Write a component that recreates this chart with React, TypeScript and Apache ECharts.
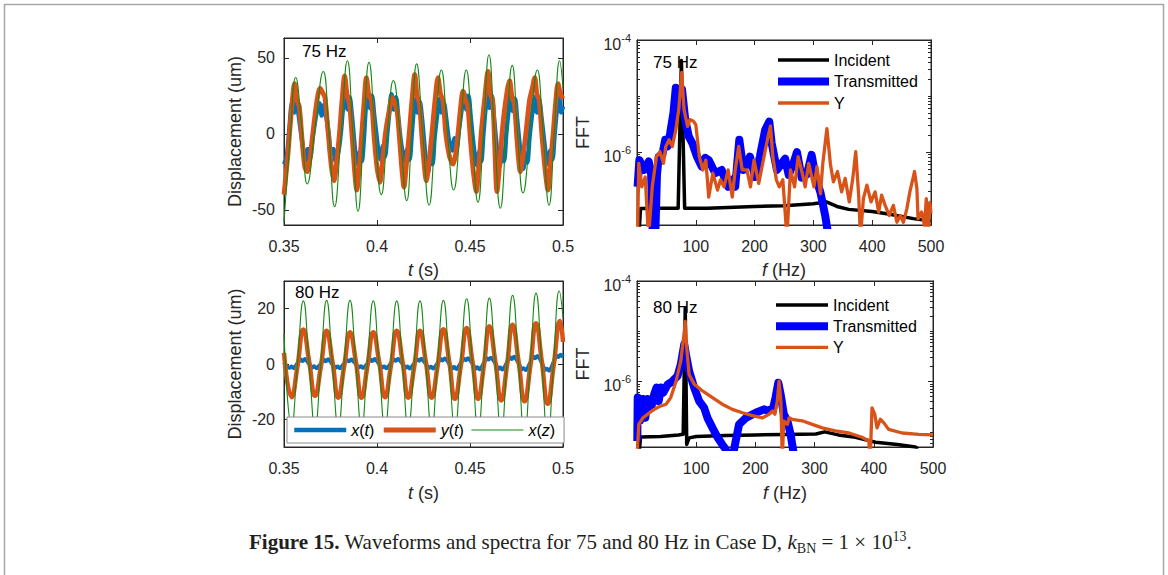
import React, { useEffect, useRef } from "react";
import * as echarts from "echarts";

// ---------- tick labels / categories ----------
const tickTime = [0.35, 0.4, 0.45, 0.5];
const tickFreq = [100, 200, 300, 400, 500];
const tickDisp75 = [-50, 0, 50];
const tickDisp80 = [-20, 0, 20];
const tickFFT = [1e-6, 1e-4];
const tickFFTExp = ["-6", "-4"];
const minorFFT = [6e-8, 7e-8, 8e-8, 9e-8, 1e-7, 2e-7, 3e-7, 4e-7, 5e-7, 6e-7, 7e-7, 8e-7, 9e-7,
  2e-6, 3e-6, 4e-6, 5e-6, 6e-6, 7e-6, 8e-6, 9e-6, 1e-5, 2e-5, 3e-5, 4e-5, 5e-5, 6e-5, 7e-5, 8e-5, 9e-5];
const panelLabels = ["75 Hz", "80 Hz"];
const waveNames = ["x(t)", "y(t)", "x(z)"];
const fftNames = ["Incident", "Transmitted", "Y"];

// ---------- 75 Hz waveforms [t (s), displacement (um)] ----------
const wave75X = [
  [0.35, -20], [0.3515, -15], [0.353, 5], [0.3543, 20], [0.3555, 14], [0.3565, 21], [0.3578, 13], [0.3592, 0],
  [0.3605, -12], [0.3615, -18], [0.3628, -10], [0.364, -16], [0.3655, -2],
  [0.3675, 14], [0.369, 20], [0.3703, 12], [0.3715, 19], [0.3728, 11], [0.3742, -2],
  [0.3752, -14], [0.3765, -10], [0.3778, -18], [0.3792, -12], [0.3805, 0],
  [0.3818, 18], [0.383, 27], [0.3842, 16], [0.3853, 24], [0.3865, 12], [0.3876, -3],
  [0.3885, -14], [0.3896, -20], [0.3908, -12], [0.3918, -18], [0.393, -2],
  [0.394, 18], [0.395, 28], [0.3962, 17], [0.3973, 25], [0.3985, 12], [0.3998, -2],
  [0.4008, -12], [0.402, -17], [0.4032, -8], [0.4043, -15], [0.4055, 0],
  [0.4067, 15], [0.4078, 26], [0.409, 16], [0.4102, 24], [0.4115, 10], [0.4127, -4],
  [0.414, -14], [0.4152, -19], [0.4163, -10], [0.4175, -17], [0.4187, 0],
  [0.4197, 15], [0.4207, 23], [0.4218, 14], [0.423, 21], [0.4242, 10], [0.4253, -5],
  [0.4263, -18], [0.4275, -25], [0.4287, -14], [0.4298, -20], [0.431, -2],
  [0.4325, 14], [0.4337, 23], [0.4348, 14], [0.436, 20], [0.4372, 10], [0.4385, -3],
  [0.4395, -8], [0.4405, -11], [0.4417, -3], [0.4428, -10], [0.444, 2],
  [0.4455, 16], [0.4468, 27], [0.448, 16], [0.4492, 25], [0.4503, 12], [0.4515, -3],
  [0.4527, -15], [0.4538, -21], [0.455, -12], [0.456, -18], [0.4572, 0],
  [0.4583, 16], [0.4594, 28], [0.4605, 17], [0.4617, 25], [0.4628, 12], [0.464, -4],
  [0.465, -15], [0.466, -21], [0.4672, -12], [0.4683, -18], [0.4695, 0],
  [0.4707, 15], [0.4718, 25], [0.473, 15], [0.4742, 23], [0.4753, 10], [0.4765, -5],
  [0.4775, -17], [0.4786, -23], [0.4797, -13], [0.4808, -19], [0.482, -2],
  [0.4835, 14], [0.4847, 24], [0.486, 14], [0.4872, 22], [0.4885, 10], [0.4897, -3],
  [0.4908, -14], [0.492, -20], [0.4932, -11], [0.4943, -17], [0.4955, 0],
  [0.4967, 16], [0.4978, 26], [0.499, 14], [0.5, 18],
];
const wave75Y = [
  [0.35, -40], [0.352, -15], [0.354, 15], [0.3557, 33], [0.357, 22], [0.3582, 18], [0.3598, -5], [0.3612, -22],
  [0.3625, -25], [0.3638, -18], [0.3655, 0], [0.3675, 20], [0.3694, 30], [0.3708, 27], [0.372, 24], [0.3738, 0],
  [0.3755, -22], [0.3769, -31], [0.3782, -20], [0.3798, 0], [0.3812, 22], [0.3826, 38], [0.384, 25], [0.3852, 20],
  [0.3868, -5], [0.388, -25], [0.3891, -37], [0.3905, -22], [0.3918, 0], [0.393, 20], [0.3943, 37], [0.3957, 25],
  [0.397, 22], [0.3985, -3], [0.4, -22], [0.4016, -32], [0.403, -18], [0.4045, 0], [0.4065, 15], [0.4082, 24],
  [0.4095, 20], [0.4108, 15], [0.4122, -5], [0.4135, -25], [0.4145, -35], [0.4158, -20], [0.4173, 0], [0.4188, 22],
  [0.4203, 39], [0.4216, 25], [0.4228, 20], [0.4242, -3], [0.4255, -22], [0.4265, -31], [0.428, -18], [0.4295, 0],
  [0.4312, 22], [0.4328, 37], [0.4342, 26], [0.4355, 22], [0.437, 0], [0.439, -15], [0.4409, -20], [0.4422, -14],
  [0.4437, 2], [0.445, 18], [0.4462, 28], [0.4475, 22], [0.4488, 18], [0.4503, -5], [0.4518, -25], [0.4534, -38],
  [0.4547, -22], [0.456, 0], [0.4578, 22], [0.4597, 41], [0.461, 26], [0.4622, 22], [0.4632, -5], [0.4645, -38],
  [0.4658, -22], [0.4672, 0], [0.469, 20], [0.4713, 35], [0.4726, 24], [0.4738, 20], [0.4752, -3], [0.4762, -18],
  [0.477, -25], [0.4785, -15], [0.48, 0], [0.482, 22], [0.4835, 30], [0.4848, 37], [0.486, 26], [0.4872, 22],
  [0.4888, -3], [0.4905, -25], [0.4919, -37], [0.4932, -20], [0.4947, 0], [0.496, 20], [0.4973, 33], [0.4987, 26],
  [0.5, 23],
];
const wave75Z = [
  [0.35, -58], [0.3532, -5], [0.3563, 37], [0.3595, 5], [0.3625, -33], [0.3668, 5], [0.3711, 41], [0.3742, 0],
  [0.3772, -48], [0.3807, 0], [0.3841, 48], [0.387, 0], [0.3898, -51], [0.3928, 0], [0.3957, 47], [0.399, 0],
  [0.4023, -40], [0.4055, 0], [0.4088, 35], [0.4124, 0], [0.416, -44], [0.4186, 0], [0.4213, 46], [0.4246, 0],
  [0.428, -47], [0.4313, 0], [0.4346, 42], [0.4379, 0], [0.4412, -37], [0.4446, 0], [0.448, 42], [0.4511, 0],
  [0.4543, -45], [0.4572, 0], [0.4602, 52], [0.4632, 0], [0.4663, -49], [0.4695, 0], [0.4727, 45], [0.4756, 0],
  [0.4785, -39], [0.4823, 0], [0.4862, 42], [0.4893, 0], [0.4925, -47], [0.4953, 0], [0.4982, 48], [0.5, 30],
];

// ---------- 80 Hz waveforms ----------
const wave80X = [
  [0.35, 0.6], [0.3515, -0.8], [0.353, -1.4], [0.3541, -0.9], [0.3553, -1.5], [0.3572, 0.2],
  [0.359, 1.6], [0.36, 1.1], [0.3612, 1.8], [0.3635, 0.0], [0.3652, -1.3], [0.3662, -0.8], [0.3675, -1.5], [0.3698, 0.1],
  [0.3715, 1.5], [0.3725, 1.0], [0.3737, 1.7], [0.376, 0.0], [0.3777, -1.3], [0.3788, -0.9], [0.38, -1.5], [0.3823, 0.1],
  [0.384, 1.4], [0.385, 1.0], [0.3862, 1.6], [0.3886, 0.0], [0.3903, -1.2], [0.3913, -0.8], [0.3925, -1.4], [0.3948, 0.1],
  [0.3965, 1.6], [0.3975, 1.1], [0.3987, 1.8], [0.4011, 0.0], [0.4028, -1.3], [0.4038, -0.9], [0.405, -1.5], [0.4074, 0.2],
  [0.4091, 1.6], [0.4101, 1.2], [0.4113, 1.8], [0.4137, 0.1], [0.4154, -1.4], [0.4164, -0.9], [0.4176, -1.6], [0.42, 0.2],
  [0.4216, 1.7], [0.4226, 1.2], [0.4238, 1.9], [0.4262, 0.1], [0.4279, -1.4], [0.4289, -1.0], [0.4301, -1.6], [0.4325, 0.2],
  [0.4342, 1.8], [0.4352, 1.3], [0.4364, 2.0], [0.4388, 0.2], [0.4405, -1.6], [0.4415, -1.1], [0.4427, -1.8], [0.445, 0.3],
  [0.4467, 1.9], [0.4477, 1.4], [0.4489, 2.1], [0.4513, 0.2], [0.453, -1.7], [0.454, -1.2], [0.4552, -1.9], [0.4574, 0.3],
  [0.459, 2.1], [0.46, 1.6], [0.4612, 2.3], [0.4636, 0.3], [0.4653, -1.8], [0.4663, -1.3], [0.4675, -2.0], [0.4698, 0.4],
  [0.4715, 2.4], [0.4725, 1.8], [0.4737, 2.6], [0.4761, 0.4], [0.4778, -2.0], [0.4788, -1.5], [0.48, -2.2], [0.4824, 0.5],
  [0.484, 2.7], [0.485, 2.1], [0.4862, 2.9], [0.4886, 0.5], [0.4903, -2.2], [0.4913, -1.7], [0.4925, -2.4], [0.4949, 0.6],
  [0.4965, 3.0], [0.4975, 2.5], [0.4987, 3.3], [0.5, 2.5],
];
const wave80Y = [
  [0.35, 4], [0.3541, -12], [0.3572, -1], [0.3604, 12.5], [0.3635, 1], [0.3667, -11.5], [0.3698, -1], [0.3729, 12],
  [0.376, 1], [0.3792, -12.2], [0.3823, -1], [0.3855, 11.5], [0.3886, 1], [0.3917, -12.2], [0.3948, -1], [0.398, 11.5],
  [0.4011, 1], [0.4043, -12], [0.4074, -1], [0.4106, 12], [0.4137, 1], [0.4168, -12.2], [0.42, -1], [0.4231, 12],
  [0.4262, 1], [0.4294, -12.2], [0.4325, -1], [0.4357, 12.6], [0.4388, 1], [0.4419, -12.6], [0.445, -1], [0.4482, 13],
  [0.4513, 1], [0.4544, -12.6], [0.4574, -1], [0.4604, 13.6], [0.4636, 1], [0.4668, -13.2], [0.4698, -1], [0.4729, 14.2],
  [0.4761, 1], [0.4793, -13.5], [0.4824, -1], [0.4855, 14.7], [0.4886, 1], [0.4918, -14.4], [0.4949, -1], [0.4984, 15.5],
  [0.5, 8],
];
const wave80Z = [
  [0.35, 11], [0.3541, -22.5], [0.3572, 0], [0.3604, 22.8], [0.3635, 0], [0.3667, -23], [0.3698, 0], [0.3729, 23],
  [0.376, 0], [0.3792, -23], [0.3823, 0], [0.3855, 23], [0.3886, 0], [0.3917, -23], [0.3948, 0], [0.398, 22.8],
  [0.4011, 0], [0.4043, -23], [0.4074, 0], [0.4106, 22.8], [0.4137, 0], [0.4168, -23], [0.42, 0], [0.4231, 22.8],
  [0.4262, 0], [0.4294, -23.5], [0.4325, 0], [0.4357, 23], [0.4388, 0], [0.4419, -24], [0.445, 0], [0.4482, 23.6],
  [0.4513, 0], [0.4544, -24.5], [0.4574, 0], [0.4604, 23.8], [0.4636, 0], [0.4668, -25], [0.4698, 0], [0.4729, 24.8],
  [0.4761, 0], [0.4793, -26], [0.4824, 0], [0.4855, 25.6], [0.4886, 0], [0.4918, -27], [0.4949, 0], [0.498, 26.4],
  [0.5, 17],
];

// ---------- 75 Hz spectra [f (Hz), FFT] ----------
const fft75Incident = [
  [3, 3e-8], [6, 9.8e-8], [40, 1.0e-7], [70, 1.0e-7], [75.5, 4.3e-5], [81, 1.0e-7], [120, 1.0e-7], [200, 1.07e-7],
  [250, 1.1e-7], [300, 1.2e-7], [322, 1.29e-7], [340, 1.07e-7], [360, 9.5e-8], [400, 8.7e-8], [430, 7.8e-8],
  [470, 6.5e-8], [500, 5.9e-8],
];
const fft75Transmitted = [
  [1, 2.4e-7], [4, 7.2e-7], [12, 4.8e-7], [20, 6.8e-7], [24, 4.0e-7], [27, 3e-8], [31, 3e-8], [34, 4e-7], [37, 8.3e-7],
  [43, 8.9e-7], [48, 1.66e-6], [52, 1.26e-6], [56.5, 2.19e-6], [62, 5.0e-6], [66, 1.41e-5], [71, 6.6e-6], [76.5, 1.32e-5],
  [82, 3.8e-6], [88, 1.91e-6], [94, 1.45e-6], [102, 8.3e-7], [110, 5.5e-7], [116, 7.9e-7], [122, 7.2e-7], [133, 4.2e-7],
  [144, 4.8e-7], [150, 3.2e-7], [155, 2.4e-7], [162, 3.2e-7], [167, 2.4e-7], [174, 1.66e-6], [181, 4.8e-7], [192, 8.3e-7],
  [201, 3.6e-7], [209, 8.3e-7], [218, 2.5e-6], [225, 3.5e-6], [229, 1.45e-6], [238, 4.8e-7], [246, 6.3e-7], [252, 7.6e-7],
  [258, 3.9e-7], [266, 6.3e-7], [272, 1.0e-6], [280, 3.5e-7], [289, 4.0e-7], [297, 8.9e-7], [304, 3.5e-7], [312, 1.9e-7],
  [320, 7.4e-8], [326, 3e-8],
];
const fft75Y = [
  [1, 3e-8], [3, 6.3e-7], [8, 2.4e-7], [14, 3.6e-7], [19.6, 3e-8], [26, 2.4e-7], [33, 8.3e-7], [39, 1.02e-6], [45, 6.3e-7],
  [49, 1.26e-6], [54.6, 1.66e-6], [60, 1.26e-6], [66, 2.5e-6], [71, 5.75e-6], [76, 2.63e-5], [80, 5.75e-6], [86, 2.88e-6],
  [90, 3.8e-6], [96, 3.55e-6], [100, 3.09e-6], [106, 8.3e-7], [112, 4.8e-7], [117, 7.2e-7], [122, 1.58e-7], [129, 4.2e-7],
  [137, 2.1e-7], [142, 3.2e-7], [148, 2.4e-7], [155, 4.8e-7], [162, 1.58e-7], [167, 4.8e-7], [173, 1.26e-6], [179, 4.8e-7],
  [187, 4.8e-7], [193, 2.4e-7], [199, 7.2e-7], [207, 2.75e-7], [216, 8.3e-7], [223, 1.9e-6], [227, 2.9e-6], [231, 8.3e-7],
  [237, 3.2e-7], [242, 2.4e-7], [248, 3.2e-7], [255, 3e-8], [261, 4.8e-7], [268, 2.4e-7], [274, 8.3e-7], [281, 4.2e-7],
  [286, 2.4e-7], [292, 6.3e-7], [301, 2.4e-7], [306, 5.5e-7], [312, 1.8e-7], [316, 6.3e-7], [323, 2.63e-6], [329, 6.0e-7],
  [334, 2.95e-7], [341, 4.5e-7], [348, 1.95e-7], [354, 3.4e-7], [361, 1.29e-7], [367, 3.4e-7], [372, 1.02e-6], [377, 1.7e-7],
  [380, 3e-8], [385, 1.48e-7], [391, 2.57e-7], [398, 1.29e-7], [405, 1.95e-7], [411, 8.5e-8], [416, 1.7e-7], [422, 1.12e-7],
  [429, 7.4e-8], [436, 1.12e-7], [442, 5.6e-8], [448, 7.4e-8], [453, 5.6e-8], [459, 9.8e-8], [464, 1.95e-7], [472, 4.5e-7],
  [476, 2.24e-7], [478, 6.5e-8], [484, 8.5e-8], [489, 4.9e-8], [492, 1.48e-7], [495, 3e-8], [498, 1.26e-7], [500, 8e-8],
];

// ---------- 80 Hz spectra ----------
const fft80Incident = [
  [3, 3e-8], [6, 7.9e-8], [40, 8.1e-8], [70, 8.7e-8], [78, 9e-8], [81.5, 2.95e-5], [84, 5.6e-8], [88, 7.6e-8],
  [100, 8.1e-8], [150, 8.5e-8], [200, 8.7e-8], [250, 8.9e-8], [302, 9.1e-8], [317, 1.0e-7], [340, 8.7e-8],
  [369, 7.8e-8], [403, 6.2e-8], [440, 5.6e-8], [470, 5.0e-8], [475, 4.6e-8],
];
const fft80Transmitted = [
  [0.5, 6.6e-8], [1.2, 4.8e-7], [5, 1.66e-7], [10, 4.5e-7], [14, 1.9e-7], [18, 4.5e-7], [24, 3.0e-7], [29, 5.6e-7],
  [33, 7.6e-7], [36.6, 4.1e-7], [40.4, 7.6e-7], [44.4, 6.0e-7], [51.7, 8.7e-7], [60, 1.02e-6], [68.5, 1.29e-6],
  [74, 2.19e-6], [79.8, 5.5e-6], [82.6, 3.5e-6], [88, 1.62e-6], [96.6, 7.6e-7], [105, 4.1e-7], [113.5, 3.0e-7],
  [119, 1.9e-7], [127.5, 1.2e-7], [136, 7.8e-8], [144, 5.6e-8], [150, 4.5e-8], [157, 2e-8], [164, 4.5e-8],
  [172.4, 1.41e-7], [184, 1.9e-7], [200.5, 2.4e-7], [214.5, 2.8e-7], [223, 2.6e-7], [230, 3.0e-7], [234, 4.8e-7],
  [238.7, 9.5e-7], [242.6, 5.6e-7], [248, 2.24e-7], [254, 1.66e-7], [259.5, 8.9e-8], [263.5, 4.5e-8], [268, 2e-8],
];
const fft80Y = [
  [0.5, 4e-8], [3, 1.41e-7], [10, 1.9e-7], [21, 2.4e-7], [29, 2.8e-7], [38, 3.2e-7], [49, 3.55e-7], [57, 4.8e-7],
  [66, 1.02e-6], [74, 2.57e-6], [80, 1.02e-5], [81.4, 1.58e-5], [84, 4.7e-6], [88, 1.38e-6], [96.6, 8.9e-7],
  [110.6, 6.5e-7], [127.5, 4.8e-7], [144, 3.55e-7], [161, 2.8e-7], [178, 2.4e-7], [195, 2.1e-7], [212, 1.9e-7],
  [223, 2.24e-7], [229, 2.6e-7], [233, 2.24e-7], [237, 4.1e-7], [240, 1.02e-6], [243, 4.1e-7], [245.4, 3e-8],
  [248, 1.66e-7], [254, 1.41e-7], [257, 1.9e-7], [262.3, 1.78e-7], [279, 1.66e-7], [296, 1.41e-7], [313, 1.2e-7],
  [335, 1.05e-7], [358, 9.5e-8], [380, 7.8e-8], [391.5, 6.6e-8], [394, 3e-8], [397, 3.0e-7], [401.6, 2.24e-7],
  [405.5, 1.2e-7], [411, 1.78e-7], [417, 1.51e-7], [425, 1.12e-7], [448, 9.5e-8], [476, 8.9e-8], [500, 8.7e-8],
];

// ---------- styling ----------
const FONT = "'Liberation Sans', Arial, Helvetica, sans-serif";
const SERIF = "'Liberation Serif', 'Times New Roman', serif";
const AX = "#262626";
const C_BLUE = "#0072BD";
const C_ORANGE = "#D95319";
const C_GREEN = "#138a13";
const NAME_SIZE = 18;

const italicRich = (size: number) => ({
  i: { fontStyle: "italic", fontSize: size, fontFamily: FONT, color: AX },
});
const italicize = (s: string) => s.replace(/([a-z])/g, "{i|$1}");

function xPair(grid: number, min: number, max: number, ticks: number[], name: string, gap: number) {
  const base = {
    type: "value", gridIndex: grid, min, max,
    splitLine: { show: false },
    axisLine: { show: true, onZero: false, lineStyle: { color: AX, width: 1 } },
    axisTick: { show: true, inside: true, length: 5, customValues: ticks, lineStyle: { color: AX } },
  };
  return [
    {
      ...base, position: "bottom",
      axisLabel: { show: true, customValues: ticks, margin: 13, fontSize: 16, fontFamily: FONT, color: AX,
        formatter: (v: number) => String(+v.toFixed(4)) },
      name, nameLocation: "middle", nameGap: gap,
      nameTextStyle: { fontSize: NAME_SIZE, fontFamily: FONT, color: AX, rich: italicRich(NAME_SIZE) },
    },
    { ...base, position: "top", axisLabel: { show: false } },
  ];
}

function yLinear(grid: number, min: number, max: number, ticks: number[]) {
  const base = {
    type: "value", gridIndex: grid, min, max,
    splitLine: { show: false },
    axisLine: { show: true, onZero: false, lineStyle: { color: AX, width: 1 } },
    axisTick: { show: true, inside: true, length: 5, customValues: ticks, lineStyle: { color: AX } },
  };
  return [
    {
      ...base, position: "left",
      axisLabel: { show: true, customValues: ticks, margin: 9, fontSize: 16, fontFamily: FONT, color: AX },
      name: "Displacement (um)", nameLocation: "middle", nameGap: 40, nameRotate: 90,
      nameTextStyle: { fontSize: NAME_SIZE, fontFamily: FONT, color: AX },
    },
    { ...base, position: "right", axisLabel: { show: false } },
  ];
}

function yLog(grid: number) {
  const base = {
    type: "log", gridIndex: grid, min: 5e-8, max: 1e-4, logBase: 10,
    splitLine: { show: false },
    axisLine: { show: true, onZero: false, lineStyle: { color: AX, width: 1 } },
  };
  const major = { show: true, inside: true, length: 5, customValues: tickFFT, lineStyle: { color: AX } };
  const minor = { show: true, inside: true, length: 3, customValues: minorFFT, lineStyle: { color: AX } };
  return [
    {
      ...base, position: "left", axisTick: major,
      axisLabel: {
        show: true, customValues: tickFFT, margin: 6, color: AX,
        formatter: (v: number) => "{b|10}{s|" + tickFFTExp[v > 1e-5 ? 1 : 0] + "}",
        rich: {
          b: { fontSize: 16, fontFamily: FONT, color: AX, lineHeight: 16, padding: [8, 0, 0, 0] },
          s: { fontSize: 11, fontFamily: FONT, color: AX, lineHeight: 14, verticalAlign: "top" },
        },
      },
      name: "FFT", nameLocation: "middle", nameGap: 45, nameRotate: 90,
      nameTextStyle: { fontSize: NAME_SIZE, fontFamily: FONT, color: AX },
    },
    { ...base, position: "left", axisTick: minor, axisLabel: { show: false } },
    { ...base, position: "right", axisTick: major, axisLabel: { show: false } },
    { ...base, position: "right", axisTick: minor, axisLabel: { show: false } },
  ];
}

function line(name: string, data: number[][], xi: number, yi: number, color: string, width: number, smooth: number | boolean = false) {
  return {
    type: "line", name, data, xAxisIndex: xi, yAxisIndex: yi,
    symbol: "none", smooth, clip: true, silent: true,
    lineStyle: { color, width, join: "round" },
    itemStyle: { color },
    emphasis: { disabled: true },
  };
}

const legendBase = {
  selectedMode: false,
  itemStyle: { opacity: 0 },
  lineStyle: { width: "inherit" },
  textStyle: { fontSize: 16, fontFamily: FONT, color: "#000" },
};

export default function App() {
  const ref = useRef<HTMLDivElement>(null);
  useEffect(() => {
    if (!ref.current) return;
    const chart = echarts.init(ref.current, null, { renderer: "svg" });
    const grids = [
      { left: 284, top: 38, width: 279, height: 187 },
      { left: 637, top: 40, width: 294, height: 185 },
      { left: 284, top: 281, width: 279, height: 166 },
      { left: 637, top: 281, width: 296, height: 166 },
    ].map((g) => ({ ...g, show: true, borderColor: AX, borderWidth: 1, backgroundColor: "transparent" }));

    const xAxis = [
      ...xPair(0, 0.35, 0.5, tickTime, "{i|t} (s)", 36),
      ...xPair(1, 0, 500, tickFreq, "{i|f} (Hz)", 36),
      ...xPair(2, 0.35, 0.5, tickTime, "{i|t} (s)", 37),
      ...xPair(3, 0, 500, tickFreq, "{i|f} (Hz)", 37),
    ];
    const yAxis = [
      ...yLinear(0, -60, 63, tickDisp75),
      ...yLog(1),
      ...yLinear(2, -30, 30, tickDisp80),
      ...yLog(3),
    ];

    const series = [
      line(waveNames[0], wave75X, 0, 0, C_BLUE, 4.5, 0.3),
      line(waveNames[1], wave75Y, 0, 0, C_ORANGE, 4.8, 0.3),
      line(waveNames[2], wave75Z, 0, 0, C_GREEN, 1.1, 0.5),
      line(fftNames[0], fft75Incident, 2, 2, "#000000", 3.5),
      line(fftNames[1], fft75Transmitted, 2, 2, "#0000FF", 8),
      line(fftNames[2], fft75Y, 2, 2, C_ORANGE, 3.3),
      line(waveNames[0], wave80X, 4, 6, C_BLUE, 4, 0.3),
      line(waveNames[1], wave80Y, 4, 6, C_ORANGE, 4.5, 0.5),
      line(waveNames[2], wave80Z, 4, 6, C_GREEN, 1.1, 0.5),
      line(fftNames[0], fft80Incident, 6, 8, "#000000", 3.5),
      line(fftNames[1], fft80Transmitted, 6, 8, "#0000FF", 8),
      line(fftNames[2], fft80Y, 6, 8, C_ORANGE, 3.3),
    ];

    const legend = [
      { ...legendBase, orient: "vertical", left: 774, top: 52, itemWidth: 51, itemHeight: 14, itemGap: 5.5, padding: 0,
        data: fftNames },
      { ...legendBase, orient: "vertical", left: 772, top: 297, itemWidth: 52, itemHeight: 14, itemGap: 5.2, padding: 0,
        data: fftNames },
      { ...legendBase, orient: "horizontal", left: 287, top: 417, itemWidth: 52, itemHeight: 14, itemGap: 7,
        padding: [5, 9, 5, 5], backgroundColor: "#ffffff", borderColor: "#8a8a8a", borderWidth: 1,
        data: waveNames, formatter: (n: string) => italicize(n),
        textStyle: { fontSize: 16, fontFamily: FONT, color: "#000", rich: { i: { fontStyle: "italic", fontSize: 16, fontFamily: FONT, color: "#000" } } } },
    ];

    const panelText = (x: number, y: number, t: string) => ({
      type: "text", x, y, z: 1,
      style: { text: t, fontSize: 17, fontFamily: FONT, fill: "#000", verticalAlign: "middle" },
    });

    const CAP = 21;
    const graphic = [
      { type: "polyline", z: 0, shape: { points: [[4.5, 575], [4.5, 4.5], [1163.5, 4.5], [1163.5, 575]] },
        style: { stroke: "#a6a6a6", lineWidth: 1.5, fill: "none" } },
      panelText(302, 51, panelLabels[0]),
      panelText(653, 62, panelLabels[0]),
      panelText(295, 292, panelLabels[1]),
      panelText(653, 307, panelLabels[1]),
      {
        type: "text", x: 249, y: 542, z: 1,
        style: {
          text: "{b|Figure 15.}{n| Waveforms and spectra for 75 and 80 Hz in Case D, }{i|k}{sub|BN}{n| = 1 × 10}{sup|13}{n|.}",
          fontSize: CAP, fontFamily: SERIF, fill: "#231f20", verticalAlign: "middle",
          rich: {
            n: { fontSize: CAP, fontFamily: SERIF, fill: "#231f20", lineHeight: 26 },
            b: { fontWeight: "bold", fontSize: CAP, fontFamily: SERIF, fill: "#231f20", lineHeight: 26 },
            i: { fontStyle: "italic", fontSize: CAP, fontFamily: SERIF, fill: "#231f20", lineHeight: 26 },
            sub: { fontSize: 14, fontFamily: SERIF, fill: "#231f20", verticalAlign: "bottom", lineHeight: 14 },
            sup: { fontSize: 14, fontFamily: SERIF, fill: "#231f20", verticalAlign: "top", lineHeight: 14 },
          },
        },
      },
    ];

    chart.setOption({
      animation: false,
      backgroundColor: "#ffffff",
      textStyle: { fontFamily: FONT },
      grid: grids,
      xAxis, yAxis, series, legend, graphic,
    });
    return () => chart.dispose();
  }, []);
  return (
    <div style={{ position: "fixed", left: 0, top: 0, width: 1168, height: 575, background: "#fff" }}>
      <div ref={ref} style={{ width: 1168, height: 575 }} />
    </div>
  );
}
